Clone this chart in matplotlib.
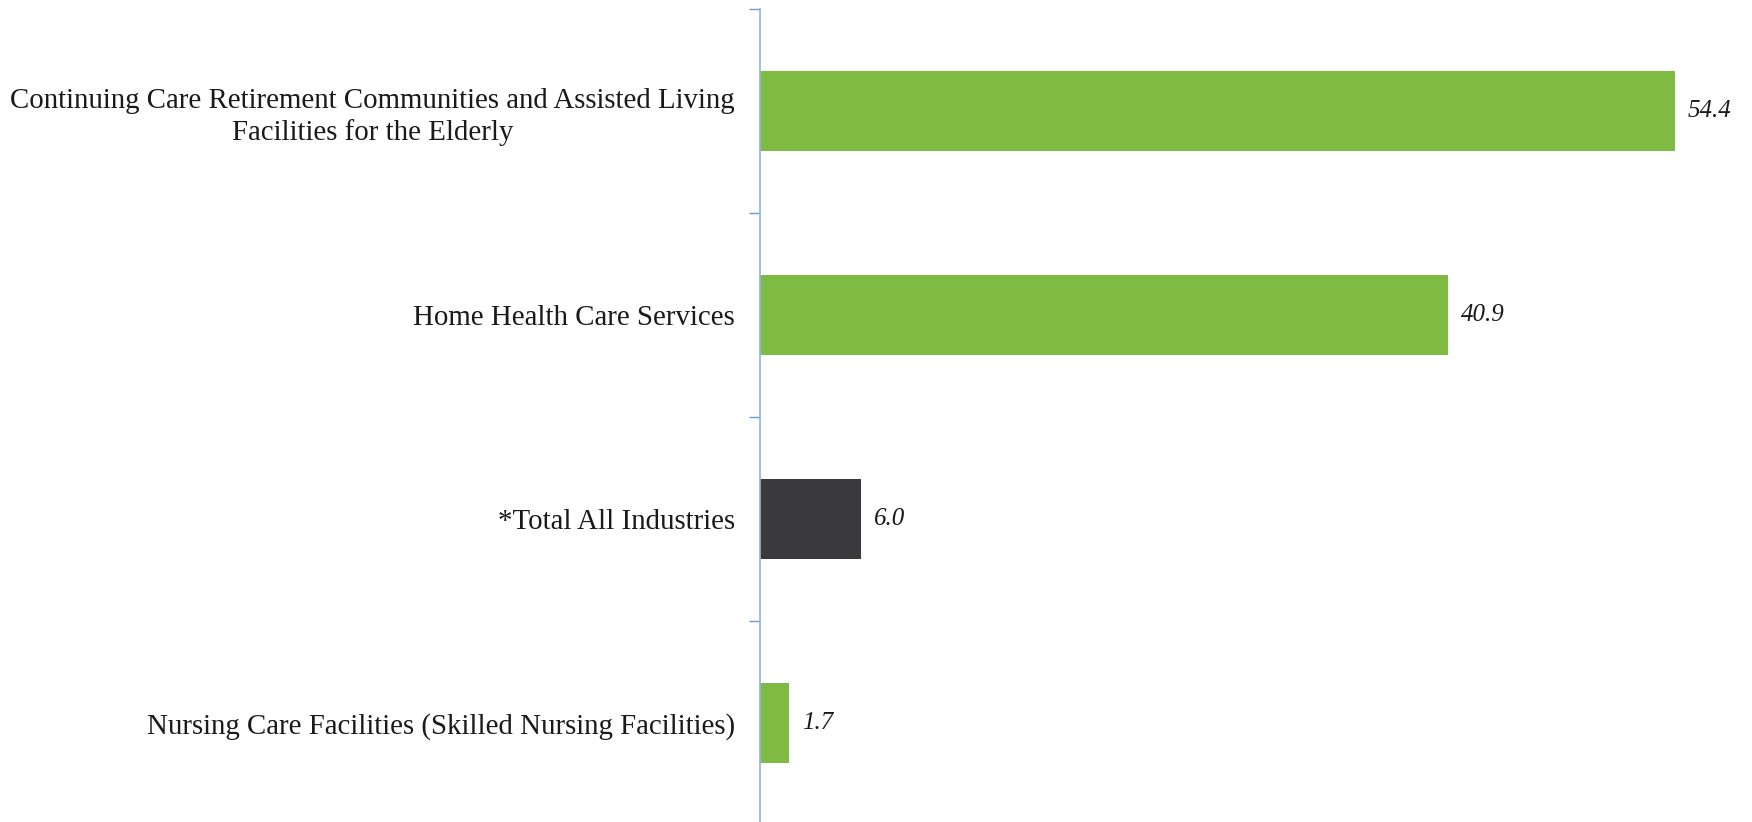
import matplotlib.pyplot as plt
import numpy as np

categories = ['Continuing Care Retirement Communities and Assisted Living\nFacilities for the Elderly',
              'Home Health Care Services',
              '*Total All Industries',
              'Nursing Care Facilities (Skilled Nursing Facilities)']
values = [54.4, 40.9, 6.0, 1.7]
colors = ['#7FBA42', '#7FBA42', '#3A3A3C', '#7FBA42']

plt.rcParams['font.family'] = ['Liberation Serif', 'DejaVu Serif']

fig = plt.figure(figsize=(17.52, 8.22), dpi=100)
ax = fig.add_axes([760/1752, -0.004, 1 - 760/1752, 0.993])

y = np.arange(len(categories))
ax.barh(y, values, height=0.39, color=colors)
ax.set_ylim(len(categories) - 0.5, -0.5)
ax.set_xlim(0, 59)

for yi, v in zip(y, values):
  ax.text(v + 0.8, yi, '%.1f' % v, va='center', ha='left',
          fontsize=18, style='italic', color='#1a1a1a')

# category labels, no ticks at bar centers; ticks at band edges
ax.set_yticks(y)
ax.set_yticklabels(categories, fontsize=20.8, multialignment='center',
                   color='#1a1a1a', linespacing=1.25)
ax.tick_params(axis='y', length=0, pad=18)
ax.set_yticks(np.arange(-0.5, len(categories), 1), minor=True)
ax.tick_params(axis='y', which='minor', length=8, color='#6F9AD0', width=1)

ax.set_xticks([])
for s in ['top', 'right', 'bottom']:
  ax.spines[s].set_visible(False)
ax.spines['left'].set_color('#8EB4E3')
ax.spines['left'].set_linewidth(1.2)

fig.savefig('out.png', dpi=100)
